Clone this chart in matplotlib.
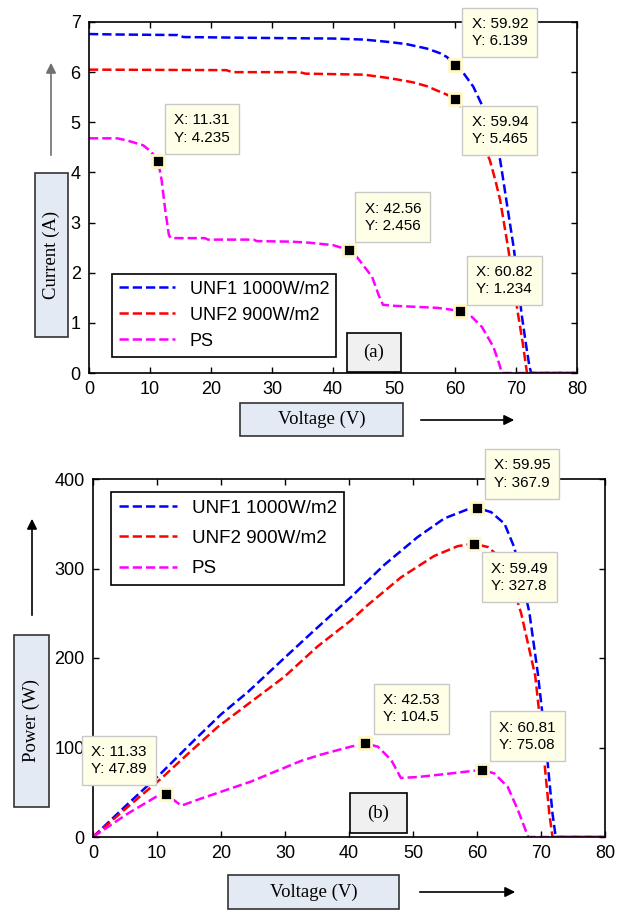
import matplotlib
matplotlib.use("Agg")
import matplotlib.pyplot as plt
from matplotlib.patches import Rectangle

plt.rcParams["font.family"] = ["Liberation Sans", "DejaVu Sans"]

W, H = 638, 911

# ---- (a) I-V data ----
v_unf1_iv = [0, 5, 14.5, 15.5, 30, 40, 45, 49.3, 52, 55.4, 57.5, 58.7, 59.92, 61.4, 63,
             64.4, 65.5, 66.5, 67.4, 68.1, 68.6, 69.6, 70.3, 70.9, 71.6, 72.2, 72.5, 80]
i_unf1 = [6.76, 6.75, 6.74, 6.70, 6.68, 6.67, 6.65, 6.60, 6.56, 6.47, 6.38, 6.30, 6.139, 5.98, 5.71,
          5.35, 5.0, 4.6, 4.25, 3.7, 3.3, 2.52, 1.85, 1.19, 0.6, 0.13, 0, 0]

v_unf2_iv = [0, 22.5, 23.5, 34.5, 35.5, 45, 49.3, 53, 55.4, 57.1, 58.7, 59.94, 61, 62.5,
             64, 65.7, 66.6, 67.4, 68.7, 69.5, 70.3, 71.1, 71.8, 80]
i_unf2 = [6.05, 6.04, 6.0, 6.0, 5.97, 5.95, 5.88, 5.80, 5.72, 5.63, 5.55, 5.465, 5.3, 5.05,
          4.7, 4.25, 3.85, 3.45, 2.5, 1.85, 1.2, 0.6, 0, 0]

v_ps_iv = [0, 4.6, 6.2, 8.9, 10.2, 11.31, 11.9, 12.5, 13.1, 13.4, 19, 19.5, 27, 27.5, 33, 36,
           40, 42.56, 44, 46.4, 47.5, 48.2, 50, 57, 59, 60.82, 62.5, 64.4, 66.3, 67.2, 67.7, 80]
i_ps = [4.68, 4.68, 4.64, 4.54, 4.41, 4.235, 3.85, 3.25, 2.75, 2.69, 2.69, 2.66, 2.66, 2.63, 2.62, 2.60,
        2.55, 2.456, 2.3, 1.92, 1.55, 1.36, 1.34, 1.30, 1.27, 1.234, 1.15, 0.92, 0.52, 0.2, 0, 0]

# ---- (b) P-V data ----
v_unf1_pv = [0, 5, 10.6, 15.8, 20, 24.2, 29.9, 34.6, 40.3, 45.5, 50.7, 54.9, 58.5, 59.95, 62.2,
             64.3, 65.8, 67, 68.2, 69.5, 70.8, 71.8, 72.3, 80]
p_unf1 = [0, 34, 71, 108, 137, 162, 200, 231, 268, 304, 335, 356, 366, 367.9, 363,
          350, 324, 290, 250, 183, 101, 26, 0, 0]

v_unf2_pv = [0, 5, 10.6, 15, 19.5, 24.5, 29.9, 35.1, 40.3, 42.9, 48.1, 53.3, 57, 59.49, 61.7,
             63, 64.5, 65.8, 66.9, 69.1, 70.3, 71.3, 71.8, 80]
p_unf2 = [0, 31, 65, 94, 123, 150, 179, 213, 242, 259, 290, 314, 325, 327.8, 324,
          316, 300, 275, 250, 180, 101, 26, 0, 0]

v_ps_pv = [0, 5.4, 10.1, 11.33, 12.5, 13.8, 16.9, 24.7, 32.5, 35.6, 40.3, 42.53, 44.5, 46.6,
           48.1, 50.7, 55.9, 60.81, 62.7, 64.8, 66.4, 68, 80]
p_ps = [0, 26, 46, 47.89, 42, 35, 43, 62, 85, 92, 101, 104.5, 101, 86,
        66, 67, 71, 75.08, 71, 56, 30, 0, 0]

# data tips: (x, y, box corner offset in px, corner)
tips_a = [(11.31, 4.235, 7, 7, "ll"), (59.92, 6.139, 8, 8, "ll"), (59.94, 5.465, 8, -7, "ul"),
          (42.56, 2.456, 7, 8, "ll"), (60.82, 1.234, 7, 6, "ll")]
tips_b = [(11.33, 47.89, -10, 9, "lr"), (42.53, 104.5, 9, 10, "ll"), (60.81, 75.08, 8, 9, "ll"),
          (59.95, 367.9, 8, 9, "ll"), (59.49, 327.8, 8, -9, "ul")]

C_BLUE, C_RED, C_MAG = "#0000FF", "#FF0000", "#FF00FF"
BOX_FC = "#E4EAF4"
TIP_FC = "#FFFFE8"


def fx(x):
    return x / W


def fy(y):
    return 1 - y / H


def style_axes(ax):
    for s in ax.spines.values():
        s.set_linewidth(1.2)
    ax.tick_params(direction="in", top=True, right=True, length=4, width=1,
                   labelsize=13, pad=6)


def add_tip(ax, x, y, dx, dy, corner, fmt):
    pad = 9
    ax.plot([x], [y], "s", color="black", ms=9, mec="#FFF8C8", mew=2, zorder=6)
    ha = "left" if corner in ("ll", "ul") else "right"
    va = "bottom" if corner in ("ll", "lr") else "top"
    ox = dx + (pad if ha == "left" else -pad)
    oy = dy + (pad if va == "bottom" else -pad)
    ax.annotate(f"X: {x:.2f}\nY: {fmt(y)}", xy=(x, y), xytext=(ox, oy),
                textcoords="offset pixels", ha=ha, va=va, fontsize=11, linespacing=1.3,
                bbox=dict(boxstyle="square,pad=0.6", fc=TIP_FC, ec="#C8C8C8", lw=1),
                zorder=7)


def label_box(fig, x0, y0, x1, y1, text, rot=0, fc=BOX_FC, ec="#333333"):
    fig.add_artist(Rectangle((fx(x0), fy(y1)), fx(x1 - x0), (y1 - y0) / H,
                             transform=fig.transFigure, fc=fc, ec=ec, lw=1.2))
    fig.text(fx((x0 + x1) / 2), fy((y0 + y1) / 2), text, rotation=rot, ha="center",
             va="center", fontsize=13.5, family=["Liberation Serif", "DejaVu Serif"])


def arrow(fig, x0, y0, x1, y1, color="black"):
    fig.add_artist(matplotlib.patches.FancyArrowPatch(
        (fx(x0), fy(y0)), (fx(x1), fy(y1)), transform=fig.transFigure,
        arrowstyle="-|>,head_length=6,head_width=3", color=color, lw=1.2))


fig = plt.figure(figsize=(W / 100, H / 100), dpi=100)
fig.patch.set_facecolor("white")

# ---- panel (a) ----
ax1 = fig.add_axes([fx(89), fy(373), (577 - 89) / W, (373 - 22) / H])
ax1.plot(v_unf1_iv, i_unf1, "--", color=C_BLUE, lw=1.8, label="UNF1 1000W/m2")
ax1.plot(v_unf2_iv, i_unf2, "--", color=C_RED, lw=1.8, label="UNF2 900W/m2")
ax1.plot(v_ps_iv, i_ps, "--", color=C_MAG, lw=1.8, label="PS")
ax1.set_xlim(0, 80)
ax1.set_ylim(0, 7)
ax1.set_xticks(range(0, 81, 10))
ax1.set_yticks(range(0, 8))
style_axes(ax1)
leg = ax1.legend(loc="lower left", bbox_to_anchor=((112 - 89) / 488, (373 - 357) / 351),
                 borderaxespad=0, fontsize=13, handlelength=3.1, labelspacing=0.5,
                 fancybox=False, edgecolor="black", framealpha=1)
leg.get_frame().set_linewidth(1.2)
for x, y, dx, dy, c in tips_a:
    add_tip(ax1, x, y, dx, dy, c, lambda v: f"{v:.3f}")

label_box(fig, 35, 173, 68, 337, "Current (A)", rot=90)
arrow(fig, 51, 158, 51, 60, color="#707070")
label_box(fig, 240, 403, 403, 436, "Voltage (V)")
arrow(fig, 418, 420, 517, 420)
label_box(fig, 347, 333, 401, 372, "(a)", fc="#F0F0F0", ec="black")

# ---- panel (b) ----
ax2 = fig.add_axes([fx(93), fy(837), (605 - 93) / W, (837 - 479) / H])
ax2.plot(v_unf1_pv, p_unf1, "--", color=C_BLUE, lw=1.8, label="UNF1 1000W/m2")
ax2.plot(v_unf2_pv, p_unf2, "--", color=C_RED, lw=1.8, label="UNF2 900W/m2")
ax2.plot(v_ps_pv, p_ps, "--", color=C_MAG, lw=1.8, label="PS")
ax2.set_xlim(0, 80)
ax2.set_ylim(0, 400)
ax2.set_xticks(range(0, 81, 10))
ax2.set_yticks(range(0, 401, 100))
style_axes(ax2)
leg2 = ax2.legend(loc="upper left", bbox_to_anchor=((111 - 93) / 512, (837 - 492) / 358),
                  borderaxespad=0, fontsize=13.5, handlelength=3.1, labelspacing=0.7,
                  fancybox=False, edgecolor="black", framealpha=1)
leg2.get_frame().set_linewidth(1.2)
for x, y, dx, dy, c in tips_b:
    add_tip(ax2, x, y, dx, dy, c, lambda v: f"{v:.4g}")

label_box(fig, 14, 635, 49, 807, "Power (W)", rot=90)
arrow(fig, 32, 618, 32, 516)
label_box(fig, 228, 875, 399, 909, "Voltage (V)")
arrow(fig, 417, 892, 518, 892)
label_box(fig, 350, 793, 407, 833, "(b)", fc="#F0F0F0", ec="black")

fig.savefig("out.png", dpi=100, facecolor="white")
